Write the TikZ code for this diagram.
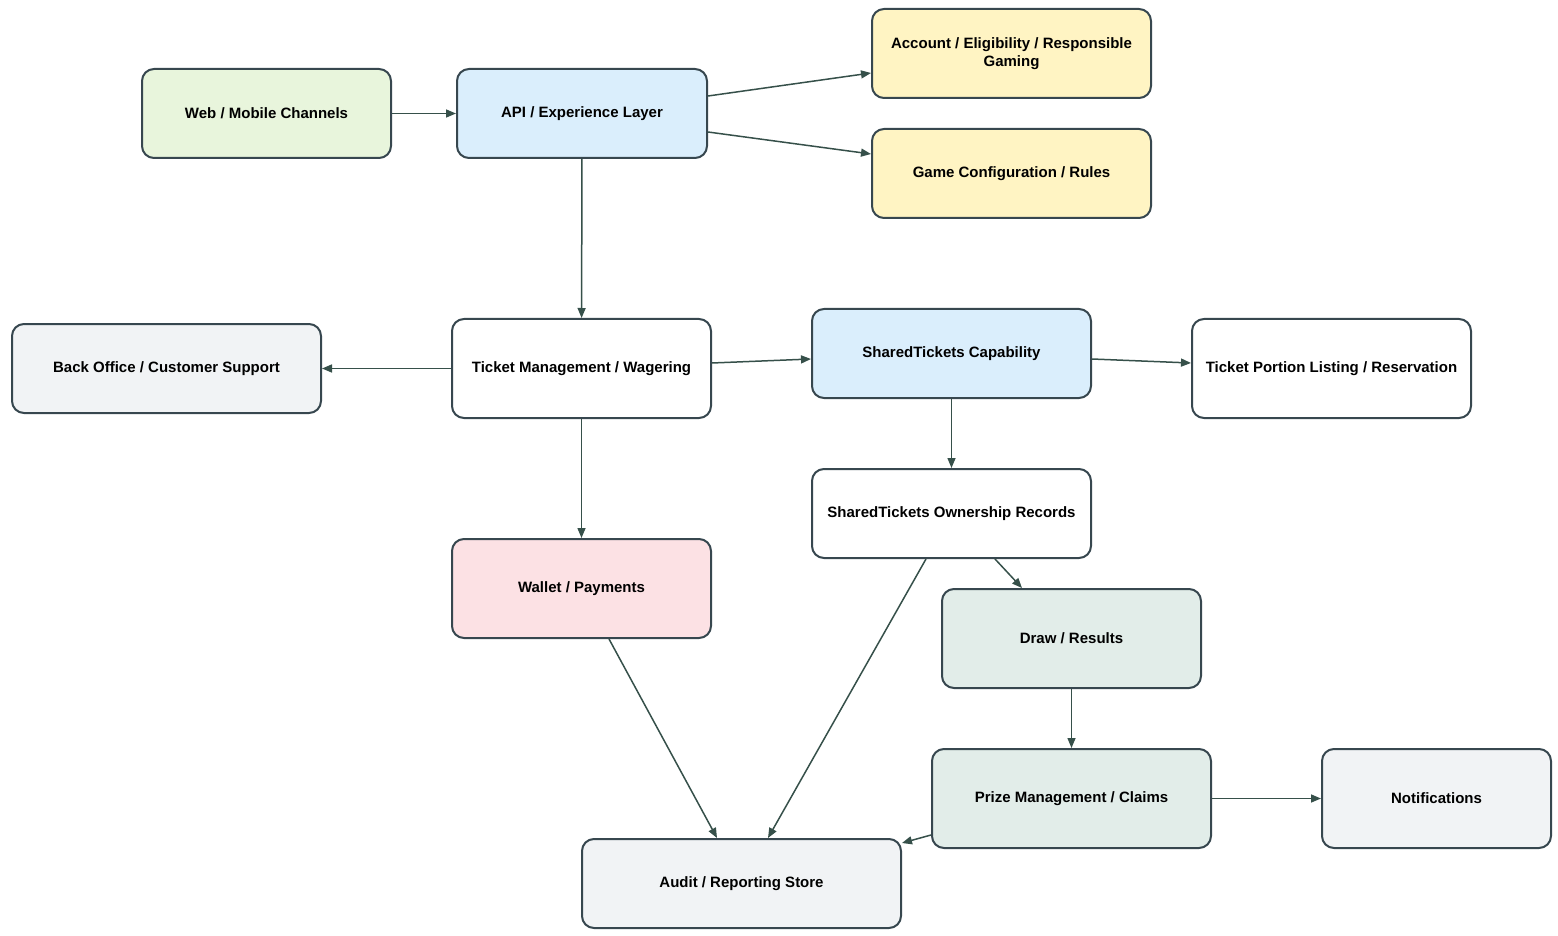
\documentclass[tikz,border=0pt]{standalone}
\usepackage{fontspec}
\setmainfont{Liberation Sans}
\definecolor{edgeline}{HTML}{36504A}
\definecolor{border}{HTML}{37474F}
\definecolor{channel}{HTML}{E8F5DC}
\definecolor{service}{HTML}{DAEEFC}
\definecolor{config}{HTML}{FFF4C3}
\definecolor{support}{HTML}{F1F3F5}
\definecolor{money}{HTML}{FCE1E4}
\definecolor{outcome}{HTML}{E2EDE9}
\usetikzlibrary{arrows.meta,positioning}

\begin{document}
\begin{tikzpicture}[x=0.5pt, y=-0.5pt, line join=round,
    box/.style={draw=border, line width=1pt, rounded corners=6pt, fill=white,
        font=\fontsize{7.5}{9}\selectfont\bfseries, align=center, inner sep=2pt},
    flow/.style={draw=edgeline, line width=0.75pt, -{Triangle[length=5pt,width=4pt]}}]
    \useasboundingbox (0,0) rectangle (1558,936);

    % Top row: channels and experience layer
    \node[box, fill=channel, minimum width=124.5pt, minimum height=44.5pt] (web) at (266.5,113.5) {Web / Mobile Channels};
    \node[box, fill=service, minimum width=125pt, minimum height=44.5pt] (api) at (582,113.5) {API / Experience Layer};
    \node[box, fill=config, minimum width=139.5pt, minimum height=44.5pt] (acct) at (1011.5,53.5) {Account / Eligibility / Responsible\\Gaming};
    \node[box, fill=config, minimum width=139.5pt, minimum height=44.5pt] (gamecfg) at (1011.5,173.5) {Game Configuration / Rules};

    % Middle row: wagering and shared tickets
    \node[box, fill=support, minimum width=154.5pt, minimum height=44.5pt] (backoffice) at (166.5,368.5) {Back Office / Customer Support};
    \node[box, minimum width=129.5pt, minimum height=49.5pt] (ticketmgmt) at (581.5,368.5) {Ticket Management / Wagering};
    \node[box, fill=service, minimum width=139.5pt, minimum height=44.5pt] (shared) at (951.5,353.5) {SharedTickets Capability};
    \node[box, minimum width=139.5pt, minimum height=49.5pt] (portion) at (1331.5,368.5) {Ticket Portion Listing / Reservation};
    \node[box, minimum width=139.5pt, minimum height=44.5pt] (ownership) at (951.5,513.5) {SharedTickets Ownership Records};

    % Lower part: payments, results, prizes, audit
    \node[box, fill=money, minimum width=129.5pt, minimum height=49.5pt] (wallet) at (581.5,588.5) {Wallet / Payments};
    \node[box, fill=outcome, minimum width=129.5pt, minimum height=49.5pt] (draw) at (1071.5,638.5) {Draw / Results};
    \node[box, fill=outcome, minimum width=139.5pt, minimum height=49.5pt] (prize) at (1071.5,798.5) {Prize Management / Claims};
    \node[box, fill=support, minimum width=114.5pt, minimum height=49.5pt] (notify) at (1436.5,798.5) {Notifications};
    \node[box, fill=support, minimum width=159.5pt, minimum height=44.5pt] (audit) at (741.5,883.5) {Audit / Reporting Store};

    % Connectors
    \draw[flow] (web) -- (api);
    \draw[flow] ([yshift=8.75pt]api.east) -- ([yshift=-9.75pt]acct.west);
    \draw[flow] ([yshift=-9.25pt]api.east) -- ([yshift=9.75pt]gamecfg.west);
    \draw[flow] (api) -- (ticketmgmt);
    \draw[flow] (ticketmgmt) -- (backoffice);
    \draw[flow] ([yshift=2.75pt]ticketmgmt.east) -- ([yshift=-2.75pt]shared.west);
    \draw[flow] ([yshift=-2.75pt]shared.east) -- ([yshift=2.75pt]portion.west);
    \draw[flow] (shared) -- (ownership);
    \draw[flow] (ticketmgmt) -- (wallet);
    \draw[flow] ([xshift=21.75pt]ownership.south) -- ([xshift=-24.75pt]draw.north);
    \draw[flow] ([xshift=-12.75pt]ownership.south) -- ([xshift=13.25pt]audit.north);
    \draw[flow] ([xshift=13.75pt]wallet.south) -- ([xshift=-12.25pt]audit.north);
    \draw[flow] (draw) -- (prize);
    \draw[flow] (prize) -- (notify);
    \draw[flow] ([yshift=-18.25pt]prize.west) -- ([yshift=20.25pt]audit.east);
\end{tikzpicture}
\end{document}
